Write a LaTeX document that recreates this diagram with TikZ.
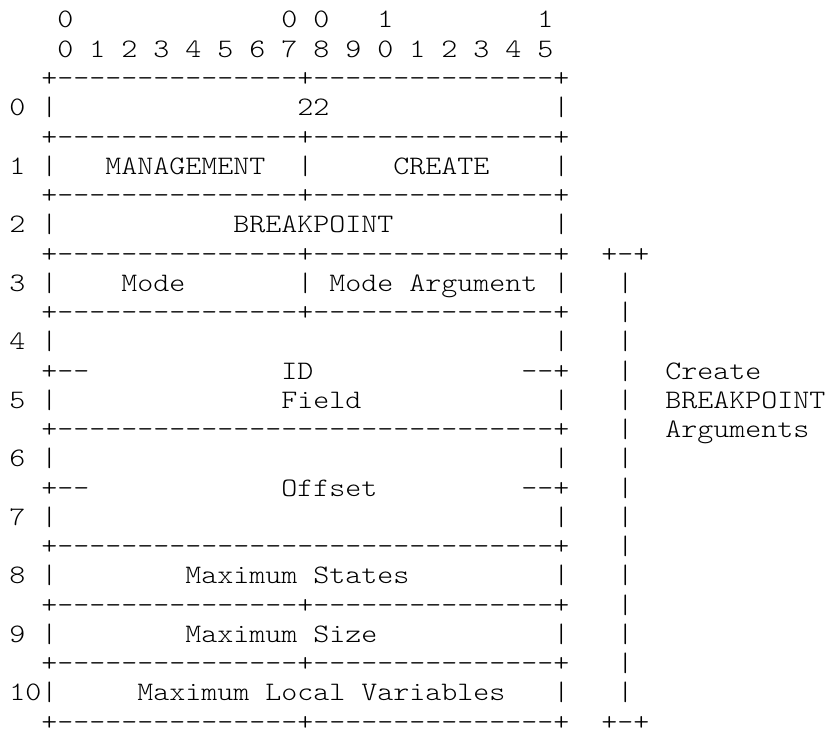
\documentclass[tikz,border=0pt]{standalone}
\usepackage{fontspec}
\newfontfamily\asciifont{lmmonolt10-regular.otf}[FakeStretch=1.142857]
\usepackage{tikz}
\tikzset{
  mono/.style={
    font=\asciifont\fontsize{13.333pt}{14.625pt}\selectfont,
    inner sep=0pt, text depth=0pt, anchor=base west, text=black
  }
}
\begin{document}
\begin{tikzpicture}[x=8pt, y=-14.625pt]
    \useasboundingbox (-0.5625,0.0427) rectangle (51.1875,25.034);

    % bit numbers
    \node[mono] (hi0a) at (3,1) {0};
    \node[mono] (hi0b) at (17,1) {0};
    \node[mono] (hi0c) at (19,1) {0};
    \node[mono] (hi1a) at (23,1) {1};
    \node[mono] (hi1b) at (33,1) {1};
    \foreach \b [count=\i from 0] in {0,1,2,3,4,5,6,7,8,9,0,1,2,3,4,5}
      \node[mono] (bit\i) at (3+2*\i,2) {\b};

    % rules of the frame
    \foreach \k in {3,5,7,9,11,21,23,25}
      \node[mono] (split\k) at (2,\k) {+---------------+---------------+};
    \foreach \k in {15,19}
      \node[mono] (rule\k) at (2,\k) {+-------------------------------+};
    \foreach \k in {13,17} {
      \node[mono] (lcut\k) at (2,\k) {+--};
      \node[mono] (rcut\k) at (32,\k) {--+};
    }

    % row numbers and side bars
    \foreach \r [evaluate=\r as \k using int(4+2*\r)] in {0,...,10} {
      \node[mono] (idx\r) at (0,\k) {\r};
      \node[mono] (lbar\k) at (2,\k) {|};
      \node[mono] (rbar\k) at (34,\k) {|};
    }
    \node[mono] (mbar6) at (18,6) {|};
    \node[mono] (mbar10) at (18,10) {|};

    % fields
    \node[mono] (code) at (18,4) {22};
    \node[mono] (mgmt) at (6,6) {MANAGEMENT};
    \node[mono] (create) at (24,6) {CREATE};
    \node[mono] (bkpt) at (14,8) {BREAKPOINT};
    \node[mono] (mode) at (7,10) {Mode};
    \node[mono] (modearg1) at (20,10) {Mode};
    \node[mono] (modearg2) at (25,10) {Argument};
    \node[mono] (id) at (17,13) {ID};
    \node[mono] (field) at (17,14) {Field};
    \node[mono] (offset) at (17,17) {Offset};
    \node[mono] (maxstates1) at (11,20) {Maximum};
    \node[mono] (maxstates2) at (19,20) {States};
    \node[mono] (maxsize1) at (11,22) {Maximum};
    \node[mono] (maxsize2) at (19,22) {Size};
    \node[mono] (maxlocals1) at (8,24) {Maximum};
    \node[mono] (maxlocals2) at (16,24) {Local};
    \node[mono] (maxlocals3) at (22,24) {Variables};

    % bracket over the arguments
    \node[mono] (brtop) at (37,9) {+-+};
    \node[mono] (brbot) at (37,25) {+-+};
    \foreach \k in {10,...,24}
      \node[mono] (brbar\k) at (38,\k) {|};
    \node[mono] (argA) at (41,13) {Create};
    \node[mono] (argB) at (41,14) {BREAKPOINT};
    \node[mono] (argC) at (41,15) {Arguments};
  \end{tikzpicture}
\end{document}
